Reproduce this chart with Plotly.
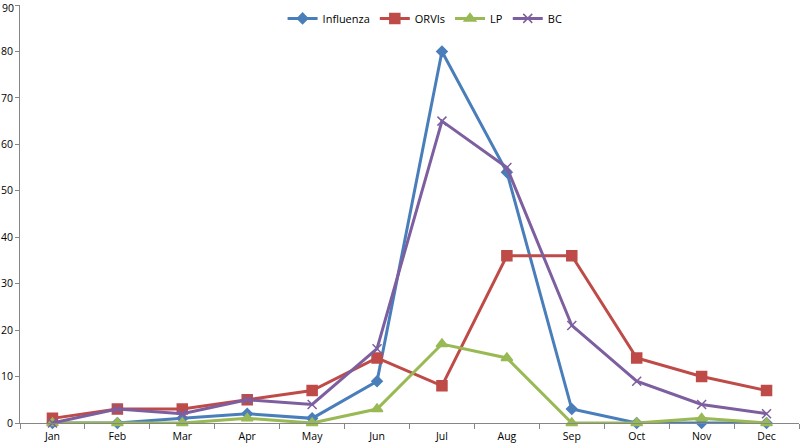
import plotly.graph_objects as go

months = ["Jan", "Feb", "Mar", "Apr", "May", "Jun", "Jul", "Aug", "Sep", "Oct", "Nov", "Dec"]
influenza = [0, 0, 1, 2, 1, 9, 80, 54, 3, 0, 0, 0]
orvis = [1, 3, 3, 5, 7, 14, 8, 36, 36, 14, 10, 7]
lp = [0, 0, 0, 1, 0, 3, 17, 14, 0, 0, 1, 0]
bc = [0, 3, 2, 5, 4, 16, 65, 55, 21, 9, 4, 2]
y_ticks = [0, 10, 20, 30, 40, 50, 60, 70, 80, 90]
y_max = 90

fig = go.Figure()
series = [
    ("Influenza", influenza, "#4A7EBB", "diamond", 8),
    ("ORVIs", orvis, "#BE4B48", "square", 10),
    ("LP", lp, "#98B954", "triangle-up", 10),
    ("BC", bc, "#7D5FA0", "x-thin", 9),
]
for name, vals, color, sym, size in series:
    fig.add_trace(go.Scatter(
        x=months, y=vals, name=name, mode="lines+markers",
        line=dict(color=color, width=3),
        marker=dict(symbol=sym, size=size, color=color,
                    line=dict(color=color, width=1.5)),
        cliponaxis=False,
    ))

fig.update_layout(
    width=800, height=444,
    margin=dict(l=20, r=1, t=5, b=21, autoexpand=False),
    paper_bgcolor="white", plot_bgcolor="white",
    font=dict(family="Open Sans, Liberation Sans, Arial, sans-serif", size=10.5, color="#000"),
    showlegend=True,
    legend=dict(orientation="h", x=0.52, y=0.968, xanchor="center", yanchor="middle",
                font=dict(size=11), bgcolor="rgba(0,0,0,0)", itemwidth=30,
                tracegroupgap=0),
    xaxis=dict(type="category", showgrid=False, showline=True, linecolor="#868686",
               linewidth=1, ticks="outside", tickson="boundaries", ticklen=5,
               tickcolor="#868686", range=[-0.5, 11.5], zeroline=False, automargin=False,
               ticklabelstandoff=3),
    yaxis=dict(range=[0, y_max], tickvals=y_ticks, showgrid=False, showline=True,
               linecolor="#868686", linewidth=1, ticks="outside", ticklen=4,
               tickcolor="#868686", zeroline=False, automargin=False),
)

# top tick label (Plotly drops the label sitting on the very edge of the page)
fig.add_annotation(text=str(y_max), xref="paper", x=0, xanchor="right", xshift=-5,
                   yref="y", y=y_max, yanchor="middle", yshift=-3, borderpad=0,
                   showarrow=False, font=dict(size=10.5, color="#000"))

fig.write_html("out.html", config={"displayModeBar": False},
               post_script="document.body.style.margin='0';document.body.style.overflow='hidden';")
